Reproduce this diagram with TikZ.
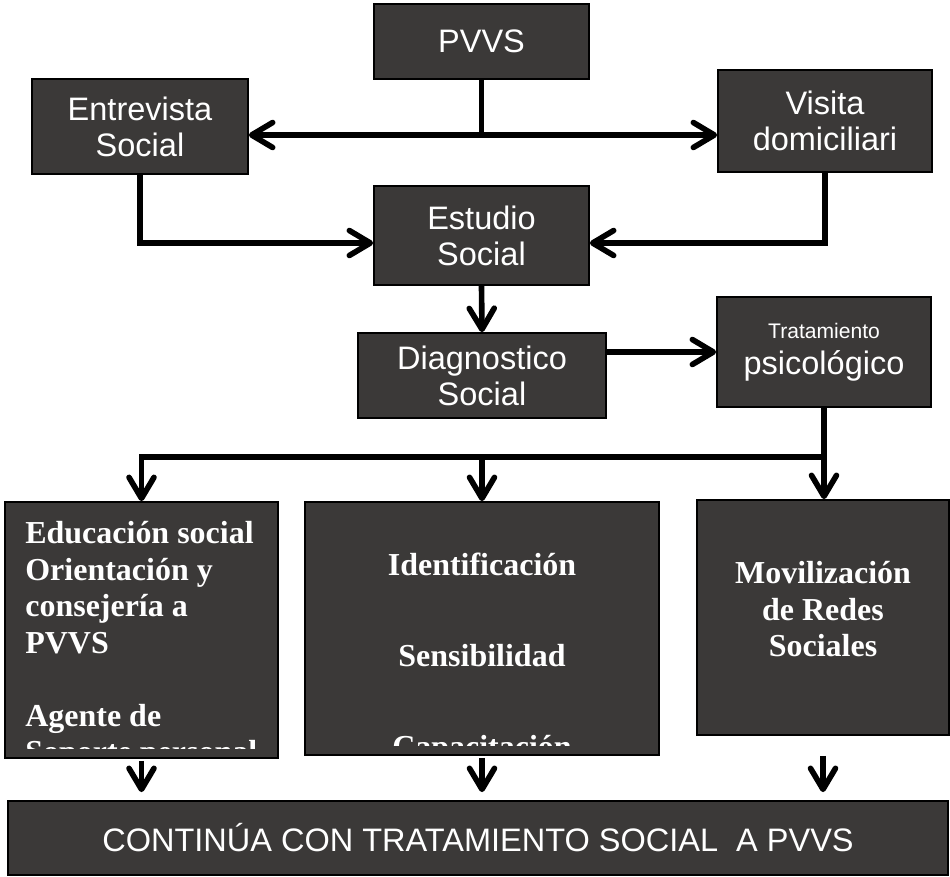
\documentclass[tikz,border=0pt]{standalone}
\usepackage{fontspec}
\setmainfont{Liberation Serif}
\setsansfont{Liberation Sans}
\usetikzlibrary{arrows.meta}
\definecolor{boxfill}{RGB}{59,57,56}
\tikzset{
  box/.style={draw=black, line width=1pt, fill=boxfill, text=white, align=center, inner sep=0pt},
  sanslabel/.style={font=\sffamily\fontsize{18.5}{20.5}\selectfont},
  seriflabel/.style={font=\bfseries\fontsize{18.2}{20.8}\selectfont, text=white, inner sep=0pt, align=center},
  link/.style={line width=3.2pt},
  conn/.style={link, -{Straight Barb[length=0.42cm, width=0.5cm, line cap=round, line join=round]}}
}
\begin{document}
\begin{tikzpicture}[x=0.02cm, y=-0.02cm]
  \useasboundingbox (0,0) rectangle (950,876);
  % boxes
  \node[box, sanslabel, minimum width=4.3cm, minimum height=1.5cm] (pvvs) at (481.5,41.5) {PVVS};
  \node[box, sanslabel, minimum width=4.32cm, minimum height=1.9cm] (entrev) at (140,126.5) {Entrevista\\Social};
  \node[box, sanslabel, minimum width=4.28cm, minimum height=2.04cm] (visita) at (825,121) {Visita\\domiciliari};
  \node[box, sanslabel, minimum width=4.3cm, minimum height=1.98cm] (estudio) at (481.5,235.5) {Estudio\\Social};
  \node[box, sanslabel, minimum width=4.96cm, minimum height=1.7cm] (diag) at (482,375.5) {Diagnostico\\Social};
  \node[box, sanslabel, minimum width=4.28cm, minimum height=2.2cm] (trat) at (824,352)
    {{\fontsize{12}{14}\selectfont Tratamiento}\\psicológico};
  \node[box, minimum width=5.46cm, minimum height=5.12cm] (educ) at (141.5,630) {};
  \node[box, minimum width=7.08cm, minimum height=5.06cm] (ident) at (482,628.5) {};
  \node[box, minimum width=5.04cm, minimum height=4.7cm] (movil) at (823,617.5) {};
  \node[box, font=\sffamily\fontsize{18.5}{22}\selectfont, minimum width=18.8cm, minimum height=1.48cm] (cont) at (478,838)
    {CONTINÚA CON TRATAMIENTO SOCIAL\ \ A PVVS};
  % texts of the lower boxes
  \begin{scope}
    \clip (educ.north west) rectangle ([yshift=0.2cm]educ.south east);
    \node[seriflabel, anchor=north west, align=left] (eductxt) at (25,521)
      {Educación social\\Orientación y\\consejería a\\PVVS\\[20.8pt]Agente de\\Soporte personal};
  \end{scope}
  \begin{scope}
    \clip (ident.north west) rectangle ([yshift=0.2cm]ident.south east);
    \node[seriflabel, anchor=north] (identtxt) at (482,553)
      {Identificación\\[31pt]Sensibilidad\\[31pt]Capacitación};
  \end{scope}
  \node[seriflabel, anchor=north] (moviltxt) at (823,561) {Movilización\\de Redes\\Sociales};
  % connectors
  \coordinate (split) at (481.5,135);
  \draw[link] (pvvs.south) -- (split);
  \draw[conn] (split) -- (split -| entrev.east);
  \draw[conn] (split) -- (split -| visita.west);
  \draw[conn] (entrev.south) |- ([yshift=-0.15cm]estudio.west);
  \draw[conn] (visita.south) |- ([yshift=-0.15cm]estudio.east);
  \draw[conn] (estudio.south) -- (diag.north);
  \draw[conn] (diag.east |- trat.west) -- (trat.west);
  \coordinate (bus) at (482,457);
  \draw[conn] (trat.south) -- (trat.south |- movil.north);
  \draw[conn] (trat.south |- bus) -| (educ.north);
  \draw[conn] (bus) -- (ident.north);
  \draw[conn, shorten <=0.04cm, shorten >=0.16cm] (educ.south) -- (educ.south |- cont.north);
  \draw[conn, shorten <=0.04cm, shorten >=0.16cm] (ident.south) -- (ident.south |- cont.north);
  \draw[conn, shorten <=0.4cm, shorten >=0.16cm] (movil.south) -- (movil.south |- cont.north);
\end{tikzpicture}
\end{document}
